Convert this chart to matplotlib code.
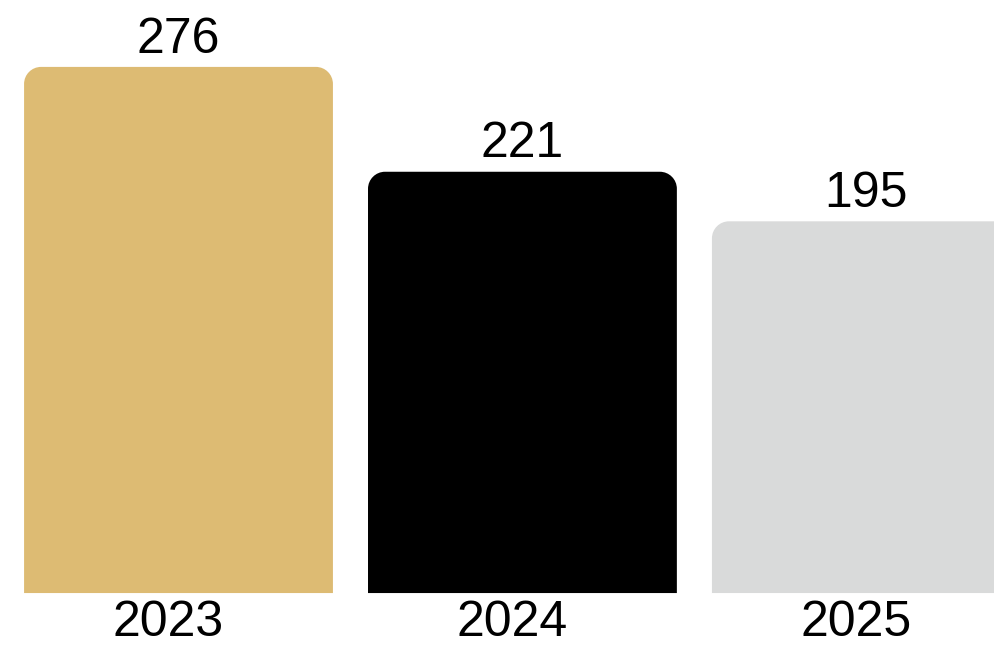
import matplotlib
matplotlib.use("Agg")
import matplotlib.pyplot as plt
from matplotlib.path import Path
from matplotlib.patches import PathPatch

# Data
years = ["2023", "2024", "2025"]
values = [276, 221, 195]
colors = ["#DDBB73", "#000000", "#D9DADA"]

plt.rcParams['font.family'] = ['Liberation Sans', 'DejaVu Sans']

fig = plt.figure(figsize=(9.95, 6.47), dpi=100, facecolor='white')
ax = fig.add_axes([0, 0, 1, 1])
ax.set_xlim(-0.519, 2.374)
ax.set_ylim(-28.3, 311.1)
ax.axis('off')

bars = ax.bar(range(len(years)), values, width=0.898, color=colors)

# Replace plain rectangles with rounded-top shapes
r_px = 17
fig.canvas.draw()
p0 = ax.transData.transform((0, 0))
p1 = ax.transData.transform((1, 1))
rx = r_px / (p1[0] - p0[0])
ry = r_px / (p1[1] - p0[1])
k = 0.5523

for rect in bars:
    x, y = rect.get_x(), rect.get_y()
    w, h = rect.get_width(), rect.get_height()
    t = y + h
    verts = [
        (x, y), (x, t - ry),
        (x, t - ry + k * ry), (x + rx - k * rx, t), (x + rx, t),
        (x + w - rx, t),
        (x + w - rx + k * rx, t), (x + w, t - ry + k * ry), (x + w, t - ry),
        (x + w, y), (x, y),
    ]
    codes = [Path.MOVETO, Path.LINETO,
             Path.CURVE4, Path.CURVE4, Path.CURVE4,
             Path.LINETO,
             Path.CURVE4, Path.CURVE4, Path.CURVE4,
             Path.LINETO, Path.CLOSEPOLY]
    patch = PathPatch(Path(verts, codes), facecolor=rect.get_facecolor(),
                      edgecolor='none')
    rect.remove()
    ax.add_patch(patch)

for i, (yr, v) in enumerate(zip(years, values)):
    ax.text(i, v + 7.5, str(v), ha='center', va='baseline', fontsize=36, color='black')
    ax.text(i - 0.03, -22.4, yr, ha='center', va='baseline', fontsize=36, color='black')

fig.savefig("out.png", dpi=100, facecolor='white')
